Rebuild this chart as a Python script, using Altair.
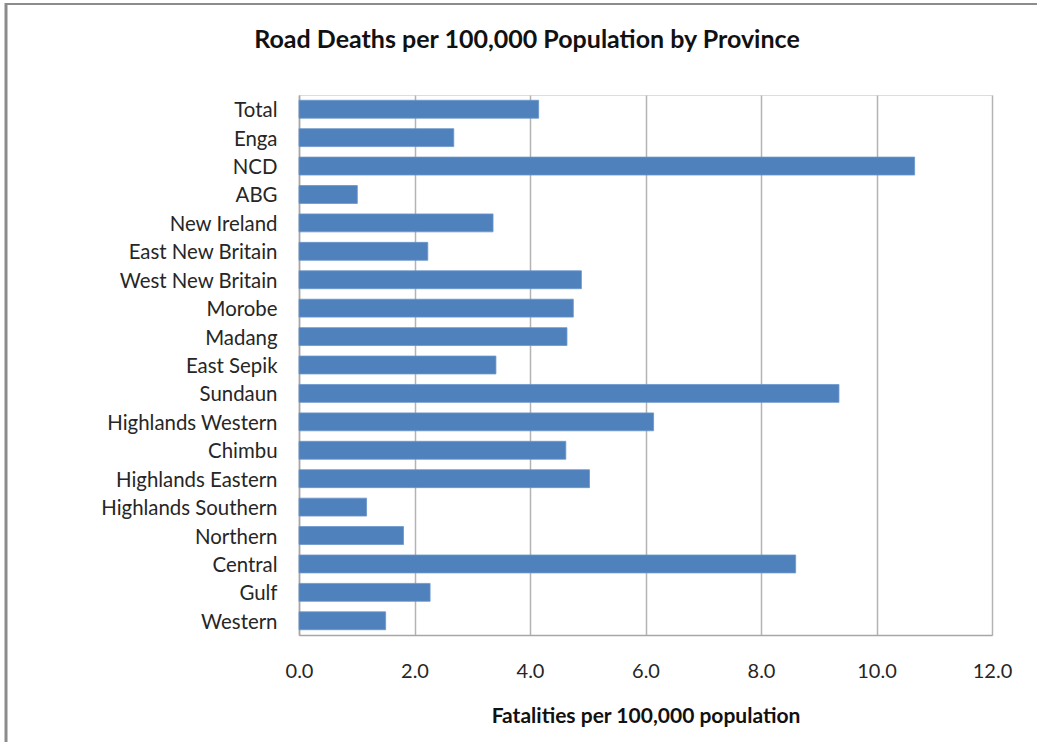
import altair as alt
import pandas as pd

provinces = ["Total", "Enga", "NCD", "ABG", "New Ireland", "East New Britain",
             "West New Britain", "Morobe", "Madang", "East Sepik", "Sundaun",
             "Highlands Western", "Chimbu", "Highlands Eastern", "Highlands Southern",
             "Northern", "Central", "Gulf", "Western"]
rates = [4.15, 2.68, 10.66, 1.01, 3.36, 2.23, 4.89, 4.75, 4.64, 3.41, 9.35,
         6.14, 4.62, 5.03, 1.17, 1.81, 8.60, 2.27, 1.50]
x_ticks = [0, 2, 4, 6, 8, 10, 12]
title_text = ["Road Deaths per 100,000 Population by Province"]

df = pd.DataFrame({"Province": provinces, "Rate": rates})
tdf = pd.DataFrame({"t": title_text})

FONT = "Lato"
W, H = 693, 540
LEFT, TOP = 299, 95

bars = alt.Chart(df).mark_bar(color="#4F81BD", stroke="#6A96CC", strokeWidth=0.8).encode(
    y=alt.Y("Province:N", sort=provinces,
            scale=alt.Scale(paddingInner=0.37, paddingOuter=0.185),
            axis=alt.Axis(title=None, labelFont=FONT, labelFontSize=20.4, labelColor="#262626",
                          labelPadding=22, labelOffset=2, ticks=False, domainColor="#a6a6a6",
                          domainWidth=1.5, grid=False)),
    x=alt.X("Rate:Q", scale=alt.Scale(domain=[0, 12], nice=False),
            axis=alt.Axis(title="Fatalities per 100,000 population", values=x_ticks,
                          format=".1f", labelFont=FONT, labelFontSize=20, labelFlush=False,
                          labelColor="#262626", labelPadding=26, ticks=False,
                          domainColor="#a6a6a6", domainWidth=1.5,
                          gridColor="#b3b3b3", gridWidth=1.5,
                          titleFont=FONT, titleFontSize=21, titleFontWeight="bold",
                          titleColor="#111111", titlePadding=24)),
)

title = alt.Chart(tdf).mark_text(font=FONT, fontSize=25, fontWeight="bold", color="#111111",
                                 align="center", baseline="middle").encode(
    x=alt.value(527 - LEFT), y=alt.value(40 - TOP), text="t:N")

left_border = alt.Chart(tdf).mark_rule(color="#8c8c8c", strokeWidth=3).encode(
    x=alt.value(6 - LEFT), y=alt.value(3 - TOP), y2=alt.value(742 - TOP))
top_border = alt.Chart(tdf).mark_rule(color="#8c8c8c", strokeWidth=2).encode(
    y=alt.value(4 - TOP), x=alt.value(6 - LEFT), x2=alt.value(1037 - LEFT))

chart = alt.layer(bars, title, left_border, top_border).properties(
    width=W, height=H,
    autosize=alt.AutoSizeParams(type="none"),
    padding={"left": LEFT, "top": TOP, "right": 1037 - LEFT - W, "bottom": 742 - TOP - H},
).configure_view(stroke=None).configure(background="white")

chart.save("out.html", embed_options={"renderer": "svg", "actions": False})
